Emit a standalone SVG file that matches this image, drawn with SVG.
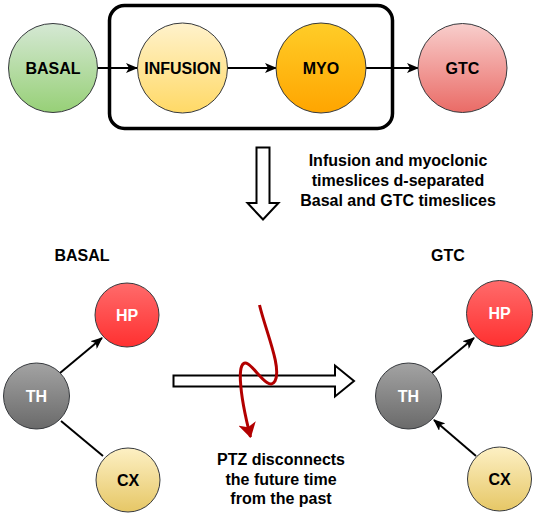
<svg xmlns="http://www.w3.org/2000/svg" width="536" height="516" viewBox="0 0 536 516">
<style>
text{font-family:"Liberation Sans",Arial,Helvetica,sans-serif;font-weight:bold;text-anchor:middle}
.lbl{font-size:16px;fill:#000}
.wl{font-size:16px;fill:#fff}
.bl{font-size:16px;fill:#000}
.cap{font-size:16px;fill:#000}
.node{stroke:#36393d;stroke-width:1}
.edge{stroke:#000;stroke-width:2;fill:none}
</style>
<defs>
<linearGradient id="gGreen" x1="0" y1="0" x2="0" y2="1"><stop offset="0" stop-color="#d5e8d4"/><stop offset="1" stop-color="#97d077"/></linearGradient>
<linearGradient id="gYellow" x1="0" y1="0" x2="0" y2="1"><stop offset="0" stop-color="#fff2cc"/><stop offset="1" stop-color="#ffd966"/></linearGradient>
<linearGradient id="gOrange" x1="0" y1="0" x2="0" y2="1"><stop offset="0" stop-color="#ffcd28"/><stop offset="1" stop-color="#ffa500"/></linearGradient>
<linearGradient id="gPink" x1="0" y1="0" x2="0" y2="1"><stop offset="0" stop-color="#f8cecc"/><stop offset="1" stop-color="#ea6b66"/></linearGradient>
<linearGradient id="gRed" x1="0" y1="0" x2="0" y2="1"><stop offset="0" stop-color="#ff6b6b"/><stop offset="1" stop-color="#ff3030"/></linearGradient>
<linearGradient id="gGray" x1="0" y1="0" x2="0" y2="1"><stop offset="0" stop-color="#a3a3a3"/><stop offset="1" stop-color="#6a6a6a"/></linearGradient>
<linearGradient id="gCx" x1="0" y1="0" x2="0" y2="1"><stop offset="0" stop-color="#fdf0c4"/><stop offset="1" stop-color="#e6c766"/></linearGradient>
<marker id="ah" viewBox="0 0 12 10" refX="11" refY="5" markerWidth="12" markerHeight="10" markerUnits="userSpaceOnUse" orient="auto">
<path d="M0,0 L12,5 L0,10 L3,5 Z" fill="#000"/>
</marker>
<marker id="ahr" viewBox="0 0 15 18" refX="14" refY="9" markerWidth="15" markerHeight="18" markerUnits="userSpaceOnUse" orient="auto">
<path d="M0,0 L15,9 L0,18 L4,9 Z" fill="#b20000"/>
</marker>
</defs>

<rect id="group-box" x="109.5" y="5.5" width="283" height="123" rx="15" ry="15" fill="none" stroke="#000" stroke-width="3.5"/>

<g id="connectors">
<line class="edge" x1="97.5" y1="68" x2="137" y2="68" marker-end="url(#ah)"/>
<line class="edge" x1="227.5" y1="68" x2="276" y2="68" marker-end="url(#ah)"/>
<line class="edge" x1="366" y1="68" x2="418" y2="68" marker-end="url(#ah)"/>
<line class="edge" x1="60" y1="373" x2="102" y2="338" marker-end="url(#ah)"/>
<line class="edge" x1="61" y1="421" x2="103" y2="456"/>
<line class="edge" x1="432" y1="373" x2="474" y2="338" marker-end="url(#ah)"/>
<line class="edge" x1="476" y1="456" x2="434" y2="420" marker-end="url(#ah)"/>
<path d="M256.5,147.5 H269.5 V203 H278.5 L263,219.5 L247.5,203 H256.5 Z" fill="#fff" stroke="#000" stroke-width="2"/>
<path d="M173.5,375.5 H335 V365.5 L354,381 L335,396.5 V386.5 H173.5 Z" fill="#fff" stroke="#000" stroke-width="2"/>
<path d="M259.5,305 C266,332 282,368 275,381 C269,392 256,369 248,364 C236,357 239,392 250.5,437" fill="none" stroke="#b20000" stroke-width="3" marker-end="url(#ahr)"/>
</g>

<g id="node-basal"><circle class="node" cx="53" cy="68" r="44.5" fill="url(#gGreen)"/><text class="lbl" x="53" y="73.5">BASAL</text></g>
<g id="node-infusion"><circle class="node" cx="182.5" cy="68" r="45" fill="url(#gYellow)"/><text class="lbl" x="182.5" y="73.5">INFUSION</text></g>
<g id="node-myo"><circle class="node" cx="321" cy="68" r="45" fill="url(#gOrange)"/><text class="lbl" x="321" y="73.5">MYO</text></g>
<g id="node-gtc"><circle class="node" cx="462.5" cy="68" r="44.5" fill="url(#gPink)"/><text class="lbl" x="462.5" y="73.5">GTC</text></g>

<g id="caption-top">
<text class="cap" x="398" y="166">Infusion and myoclonic</text>
<text class="cap" x="398" y="186">timeslices d-separated</text>
<text class="cap" x="398" y="206">Basal and GTC timeslices</text>
</g>

<text class="cap" x="82" y="261">BASAL</text>
<text class="cap" x="448" y="261">GTC</text>

<g id="node-hp-left"><circle class="node" cx="127" cy="315" r="32" fill="url(#gRed)"/><text class="wl" x="127" y="320.5">HP</text></g>
<g id="node-th-left"><circle class="node" cx="36.5" cy="396" r="33" fill="url(#gGray)"/><text class="wl" x="36.5" y="401.5">TH</text></g>
<g id="node-cx-left"><circle class="node" cx="128" cy="480" r="32" fill="url(#gCx)"/><text class="bl" x="128" y="485.5">CX</text></g>

<g id="node-hp-right"><circle class="node" cx="499.5" cy="313.5" r="33" fill="url(#gRed)"/><text class="wl" x="499.5" y="319">HP</text></g>
<g id="node-th-right"><circle class="node" cx="408.5" cy="396" r="33" fill="url(#gGray)"/><text class="wl" x="408.5" y="401.5">TH</text></g>
<g id="node-cx-right"><circle class="node" cx="499.5" cy="479" r="32" fill="url(#gCx)"/><text class="bl" x="499.5" y="484.5">CX</text></g>

<g id="caption-ptz">
<text class="cap" x="281" y="465">PTZ disconnects</text>
<text class="cap" x="281" y="485">the future time</text>
<text class="cap" x="281" y="504">from the past</text>
</g>
</svg>
